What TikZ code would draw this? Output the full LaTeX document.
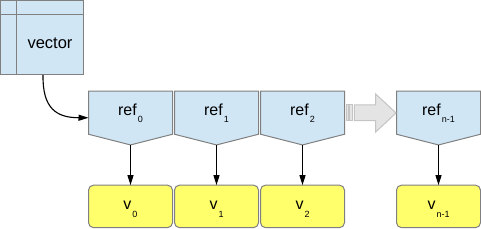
\documentclass[tikz,border=0pt]{standalone}
\usepackage{fontspec}
\setmainfont{Liberation Sans}
\usetikzlibrary{arrows.meta,calc}
\definecolor{refblue}{HTML}{D0E6F5}
\definecolor{edgegray}{HTML}{808080}
\definecolor{vyellow}{HTML}{FFFF6C}
\definecolor{arrgray}{HTML}{E4E4E4}
\definecolor{arrline}{HTML}{C4C4C4}
\newcommand\lowsub[2]{\kern1pt\raisebox{-#1pt}{\fontsize{9}{9}\selectfont #2}}
\begin{document}
\begin{tikzpicture}[x=1pt,y=-1pt,
  refbox/.style={minimum width=84pt,minimum height=43pt,inner sep=0pt,outer sep=0pt},
  refdraw/.style={draw=edgegray,fill=refblue,line width=1pt,line join=miter},
  valbox/.style={draw=edgegray,fill=vyellow,rounded corners=5pt,minimum width=84pt,minimum height=42.5pt,inner sep=0pt,outer sep=0pt,line width=1pt},
  lbl/.style={font=\fontsize{16}{16}\selectfont,inner sep=0pt,anchor=base},
  conn/.style={-{Triangle[width=6pt,length=10pt]},line width=1.1pt,black},
  garrow/.style={draw=arrline,fill=arrgray,line width=1pt}]
\useasboundingbox (0,0) rectangle (481,229);
% vector box
\node[draw=edgegray,fill=refblue,line width=1pt,minimum width=82.5pt,minimum height=74.5pt,inner sep=0pt,outer sep=0pt] (vec) at (41.75,37.75) {};
\draw[draw=edgegray,line width=1pt] ($(vec.north west)+(0,14.5)$) -- ($(vec.north east)+(0,14.5)$);
\draw[draw=edgegray,line width=1pt] ($(vec.north west)+(15.8,0)$) -- ($(vec.south west)+(15.8,0)$);
\node[lbl,font=\fontsize{16.5}{16.5}\selectfont] (vecl) at (50,49) {vector};
% refs and values
\foreach \i/\x/\s in {0/88.5/0,1/174.5/1,2/260.5/2,3/396.5/{n-1}}{
  \node[refbox] (r\i) at (\x+42,112.75) {};
  \draw[refdraw] (r\i.north west) -- (r\i.north east) -- (r\i.south east) -- ($(r\i.south)+(0,10.7)$) coordinate (t\i) -- (r\i.south west) -- cycle;
  \node[lbl] (r\i l) at (\x+42,115.3) {ref\lowsub{7.7}{\s}};
  \node[valbox] (v\i) at (\x+42,206.4) {};
  \node[lbl] (v\i l) at (\x+42,210) {v\lowsub{7}{\s}};
  \draw[conn] (t\i) -- (v\i.north);
}
% curved connector
\coordinate (vecsrc) at ($(vec.south west)+(42.5,0)$);
\coordinate (r0in) at ($(r0.west)+(0,5)$);
\draw[conn] (vecsrc) .. controls (42.5,108) and (56,117.7) .. (r0in);
% gray continuation arrow
\draw[garrow] (346,105) rectangle (348.3,120.7);
\draw[garrow] (349.7,105) rectangle (352,120.7);
\draw[garrow,line join=miter] (354.3,105) -- (375.7,105) -- (375.7,94) -- (396,113) -- (375.7,132) -- (375.7,120.7) -- (354.3,120.7) -- cycle;
\end{tikzpicture}
\end{document}
